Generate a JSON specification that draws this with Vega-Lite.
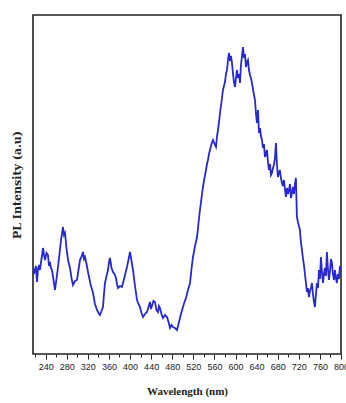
{
  "$schema": "https://vega.github.io/schema/vega-lite/v6.json",
  "autosize": "none",
  "width": 308,
  "height": 339,
  "padding": {"left": 33, "top": 15, "right": 5, "bottom": 49},
  "background": "white",
  "config": {"view": {"stroke": "#222", "strokeWidth": 1.6}},
  "data": {"values": [
    {"wl": 216, "i": 86}, {"wl": 218, "i": 80}, {"wl": 219.8, "i": 84}, {"wl": 221.5, "i": 88}, {"wl": 223.6, "i": 72},
    {"wl": 225.5, "i": 85}, {"wl": 227.4, "i": 89}, {"wl": 229.3, "i": 84}, {"wl": 231.2, "i": 92}, {"wl": 233, "i": 98},
    {"wl": 235, "i": 106}, {"wl": 236.9, "i": 99}, {"wl": 238.8, "i": 94}, {"wl": 241.6, "i": 101}, {"wl": 244.4, "i": 99},
    {"wl": 246.3, "i": 88}, {"wl": 248.2, "i": 92}, {"wl": 250, "i": 86}, {"wl": 252, "i": 84}, {"wl": 254.9, "i": 74},
    {"wl": 257.7, "i": 64}, {"wl": 260.5, "i": 75}, {"wl": 263.4, "i": 87}, {"wl": 266.2, "i": 100}, {"wl": 269.1, "i": 114},
    {"wl": 272.9, "i": 127}, {"wl": 274.8, "i": 119}, {"wl": 276.7, "i": 121}, {"wl": 279.5, "i": 106}, {"wl": 282.4, "i": 94},
    {"wl": 286.2, "i": 86}, {"wl": 289, "i": 76}, {"wl": 291.8, "i": 69}, {"wl": 295.6, "i": 73}, {"wl": 299.4, "i": 74},
    {"wl": 302.2, "i": 84}, {"wl": 305.1, "i": 94}, {"wl": 307.9, "i": 97}, {"wl": 310.8, "i": 102}, {"wl": 312.7, "i": 95},
    {"wl": 314.6, "i": 97}, {"wl": 317.5, "i": 90}, {"wl": 320.3, "i": 82}, {"wl": 325, "i": 70}, {"wl": 329.8, "i": 61},
    {"wl": 333.5, "i": 50}, {"wl": 337.3, "i": 44}, {"wl": 340.2, "i": 41}, {"wl": 343, "i": 39}, {"wl": 345.9, "i": 43},
    {"wl": 348.7, "i": 47}, {"wl": 350.6, "i": 60}, {"wl": 352.5, "i": 71}, {"wl": 355.4, "i": 78}, {"wl": 358.2, "i": 84},
    {"wl": 360.1, "i": 92}, {"wl": 362, "i": 96}, {"wl": 364.9, "i": 86}, {"wl": 367.7, "i": 82}, {"wl": 370.5, "i": 80},
    {"wl": 373.4, "i": 76}, {"wl": 375.3, "i": 70}, {"wl": 377.2, "i": 66}, {"wl": 381, "i": 68}, {"wl": 384.7, "i": 67},
    {"wl": 389.5, "i": 77}, {"wl": 394.2, "i": 87}, {"wl": 397, "i": 94}, {"wl": 399.9, "i": 102}, {"wl": 402.8, "i": 93},
    {"wl": 405.6, "i": 84}, {"wl": 409.4, "i": 68}, {"wl": 413.2, "i": 54}, {"wl": 416, "i": 50}, {"wl": 418.9, "i": 47},
    {"wl": 421.7, "i": 41}, {"wl": 424.6, "i": 37}, {"wl": 428.3, "i": 40}, {"wl": 432.1, "i": 42}, {"wl": 435, "i": 47},
    {"wl": 437.8, "i": 52}, {"wl": 439.7, "i": 45}, {"wl": 441.6, "i": 48}, {"wl": 444.4, "i": 53}, {"wl": 447.3, "i": 52},
    {"wl": 450.1, "i": 44}, {"wl": 453, "i": 42}, {"wl": 454.9, "i": 48}, {"wl": 456.8, "i": 46}, {"wl": 459.6, "i": 40},
    {"wl": 462.5, "i": 36}, {"wl": 466.3, "i": 39}, {"wl": 470.1, "i": 37}, {"wl": 473, "i": 32}, {"wl": 475.8, "i": 26},
    {"wl": 478.6, "i": 29}, {"wl": 481.4, "i": 27}, {"wl": 485.2, "i": 26}, {"wl": 489, "i": 24}, {"wl": 491.9, "i": 30},
    {"wl": 494.7, "i": 36}, {"wl": 497.6, "i": 42}, {"wl": 500.4, "i": 47}, {"wl": 503.3, "i": 52}, {"wl": 506.1, "i": 56},
    {"wl": 509.9, "i": 64}, {"wl": 513.7, "i": 71}, {"wl": 516.5, "i": 85}, {"wl": 519.4, "i": 97}, {"wl": 523.2, "i": 108},
    {"wl": 527, "i": 117}, {"wl": 529.8, "i": 131}, {"wl": 532.6, "i": 144}, {"wl": 535.5, "i": 156}, {"wl": 538.3, "i": 167},
    {"wl": 541.2, "i": 176}, {"wl": 544, "i": 184}, {"wl": 545.9, "i": 190}, {"wl": 547.8, "i": 194}, {"wl": 549.7, "i": 200},
    {"wl": 551.6, "i": 204}, {"wl": 554.5, "i": 210}, {"wl": 557.3, "i": 214}, {"wl": 560.2, "i": 210}, {"wl": 563, "i": 207},
    {"wl": 564.9, "i": 218}, {"wl": 566.8, "i": 224}, {"wl": 568.7, "i": 232}, {"wl": 570.6, "i": 241}, {"wl": 573.4, "i": 252},
    {"wl": 576.2, "i": 264}, {"wl": 578.1, "i": 268}, {"wl": 580, "i": 272}, {"wl": 581.9, "i": 280}, {"wl": 583.8, "i": 284},
    {"wl": 585.7, "i": 294}, {"wl": 587.6, "i": 301}, {"wl": 589.5, "i": 293}, {"wl": 591.4, "i": 298}, {"wl": 593.3, "i": 291},
    {"wl": 595.2, "i": 280}, {"wl": 597.1, "i": 272}, {"wl": 599, "i": 267}, {"wl": 600.9, "i": 276}, {"wl": 602.7, "i": 284},
    {"wl": 604.6, "i": 276}, {"wl": 606.6, "i": 280}, {"wl": 608.5, "i": 271}, {"wl": 610.3, "i": 289}, {"wl": 612.3, "i": 298},
    {"wl": 614.2, "i": 307}, {"wl": 616, "i": 296}, {"wl": 618, "i": 300}, {"wl": 619.8, "i": 287}, {"wl": 621.7, "i": 292},
    {"wl": 623.6, "i": 294}, {"wl": 625.5, "i": 284}, {"wl": 627.4, "i": 279}, {"wl": 629.3, "i": 276}, {"wl": 631.2, "i": 271},
    {"wl": 634, "i": 262}, {"wl": 636.9, "i": 254}, {"wl": 638.8, "i": 240}, {"wl": 640.7, "i": 231}, {"wl": 642.6, "i": 244},
    {"wl": 644.5, "i": 221}, {"wl": 646.4, "i": 226}, {"wl": 648.2, "i": 218}, {"wl": 650.1, "i": 214}, {"wl": 652, "i": 206},
    {"wl": 653.9, "i": 210}, {"wl": 655.8, "i": 197}, {"wl": 657.7, "i": 200}, {"wl": 659.6, "i": 204}, {"wl": 661.5, "i": 192},
    {"wl": 663.4, "i": 184}, {"wl": 665.3, "i": 190}, {"wl": 667.2, "i": 179}, {"wl": 669.1, "i": 181}, {"wl": 671, "i": 186},
    {"wl": 672.9, "i": 189}, {"wl": 674.8, "i": 196}, {"wl": 676.6, "i": 211}, {"wl": 678.5, "i": 190}, {"wl": 680.4, "i": 177},
    {"wl": 682.3, "i": 181}, {"wl": 684.2, "i": 184}, {"wl": 686.1, "i": 176}, {"wl": 688, "i": 171}, {"wl": 689.9, "i": 168},
    {"wl": 691.8, "i": 174}, {"wl": 693.7, "i": 165}, {"wl": 695.6, "i": 157}, {"wl": 697.5, "i": 166}, {"wl": 699.4, "i": 160},
    {"wl": 701.3, "i": 164}, {"wl": 703.2, "i": 170}, {"wl": 705.1, "i": 156}, {"wl": 707, "i": 161}, {"wl": 708.9, "i": 167},
    {"wl": 710.8, "i": 160}, {"wl": 712.6, "i": 170}, {"wl": 714.5, "i": 176}, {"wl": 716.4, "i": 137}, {"wl": 718.3, "i": 132},
    {"wl": 720.2, "i": 128}, {"wl": 722.1, "i": 124}, {"wl": 724, "i": 112}, {"wl": 725.9, "i": 104}, {"wl": 727.8, "i": 96},
    {"wl": 729.7, "i": 89}, {"wl": 731.6, "i": 80}, {"wl": 733.5, "i": 71}, {"wl": 735.4, "i": 62}, {"wl": 737.3, "i": 66},
    {"wl": 739.2, "i": 57}, {"wl": 741.1, "i": 63}, {"wl": 743, "i": 66}, {"wl": 744.9, "i": 71}, {"wl": 746.8, "i": 60},
    {"wl": 748.7, "i": 52}, {"wl": 750.6, "i": 47}, {"wl": 752.5, "i": 60}, {"wl": 754.4, "i": 71}, {"wl": 756.3, "i": 66},
    {"wl": 758.2, "i": 84}, {"wl": 760.1, "i": 75}, {"wl": 762, "i": 97}, {"wl": 763.9, "i": 82}, {"wl": 765.8, "i": 71},
    {"wl": 767.7, "i": 80}, {"wl": 769.5, "i": 86}, {"wl": 771.4, "i": 78}, {"wl": 773.3, "i": 102}, {"wl": 775.2, "i": 85},
    {"wl": 777.1, "i": 74}, {"wl": 779, "i": 82}, {"wl": 780.9, "i": 95}, {"wl": 782.8, "i": 91}, {"wl": 784.7, "i": 80},
    {"wl": 786.6, "i": 74}, {"wl": 788.5, "i": 84}, {"wl": 790.4, "i": 76}, {"wl": 792.2, "i": 71}, {"wl": 794.1, "i": 80},
    {"wl": 796.1, "i": 75}, {"wl": 798, "i": 88}, {"wl": 800, "i": 84}
  ]},
  "mark": {"type": "line", "color": "#2828d0", "strokeWidth": 1.8, "clip": true},
  "encoding": {
    "x": {
      "field": "wl", "type": "quantitative",
      "scale": {"domain": [216, 800], "nice": false, "zero": false},
      "axis": {
        "values": [220, 240, 260, 280, 300, 320, 340, 360, 380, 400, 420, 440, 460, 480, 500, 520, 540, 560, 580, 600, 620, 640, 660, 680, 700, 720, 740, 760, 780, 800],
        "labelExpr": "datum.value % 40 == 0 ? datum.label : ''",
        "tickSize": {"condition": {"test": "datum.value % 40 == 0", "value": 5}, "value": 3},
        "tickColor": "#222",
        "tickWidth": 1,
        "domain": false,
        "grid": false,
        "labelFont": "Liberation Sans Narrow, Liberation Sans",
        "labelFontSize": 9,
        "labelColor": "#222",
        "labelPadding": 3,
        "labelOverlap": false,
        "labelFlush": false,
        "title": "Wavelength (nm)",
        "titleFont": "Liberation Serif",
        "titleFontSize": 11,
        "titleFontWeight": "bold",
        "titleColor": "#222",
        "titlePadding": 14
      }
    },
    "y": {
      "field": "i", "type": "quantitative",
      "scale": {"domain": [0, 339], "nice": false},
      "axis": {
        "labels": false, "ticks": false, "domain": false, "grid": false,
        "title": "PL Intensity (a.u)",
        "titleFont": "DejaVu Serif",
        "titleFontSize": 11,
        "titleFontWeight": "bold",
        "titleColor": "#222",
        "titlePadding": 11
      }
    }
  }
}
